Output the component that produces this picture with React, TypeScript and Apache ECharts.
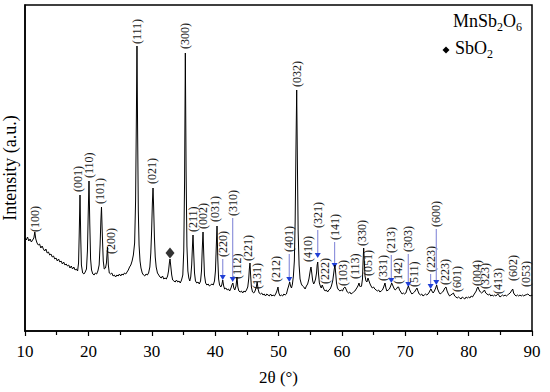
import React, { useEffect, useRef } from 'react';
import * as echarts from 'echarts';

// XRD pattern: [2θ (°), intensity (a.u.)]
const pattern: [number, number][] = [
  [10.0, 93], [10.2, 91], [10.4, 94], [10.6, 90], [10.8, 92], [11.0, 89], [11.2, 91], [11.4, 93], [11.55, 99], [11.7, 92],
  [11.9, 88], [12.1, 86], [12.3, 87], [12.5, 83], [12.7, 85], [12.9, 82], [13.1, 80], [13.3, 82], [13.5, 78], [13.7, 79],
  [13.9, 76], [14.1, 77], [14.3, 74], [14.5, 75], [14.7, 72], [14.9, 73], [15.1, 70], [15.3, 72], [15.5, 69], [15.7, 70],
  [15.9, 67], [16.1, 69], [16.3, 66], [16.5, 67], [16.7, 65], [16.9, 66], [17.1, 63], [17.3, 65], [17.5, 62], [17.7, 64],
  [17.9, 61], [18.1, 62], [18.3, 60], [18.45, 68], [18.55, 95], [18.68, 136], [18.8, 92], [18.9, 66], [19.1, 58], [19.3, 57],
  [19.5, 59], [19.7, 62], [19.85, 80], [19.98, 118], [20.1, 150], [20.22, 108], [20.35, 72], [20.5, 61], [20.7, 57], [20.9, 56],
  [21.1, 58], [21.3, 57], [21.5, 60], [21.7, 66], [21.85, 86], [21.97, 110], [22.07, 124], [22.2, 96], [22.35, 70], [22.5, 62],
  [22.7, 63], [22.85, 68], [23.02, 84], [23.15, 66], [23.3, 58], [23.5, 57], [23.7, 58], [23.9, 55], [24.1, 56], [24.3, 54],
  [24.5, 56], [24.7, 55], [24.9, 57], [25.1, 55], [25.3, 57], [25.5, 56], [25.7, 58], [25.9, 57], [26.1, 59], [26.3, 61],
  [26.5, 64], [26.7, 66], [26.9, 70], [27.1, 76], [27.3, 88], [27.45, 130], [27.57, 210], [27.67, 285], [27.77, 200], [27.88, 120],
  [28.0, 86], [28.15, 70], [28.3, 63], [28.5, 58], [28.7, 56], [28.9, 55], [29.1, 57], [29.3, 56], [29.5, 58], [29.7, 64],
  [29.85, 78], [29.98, 100], [30.1, 128], [30.2, 143], [30.3, 124], [30.42, 94], [30.55, 74], [30.7, 64], [30.9, 58], [31.1, 56],
  [31.3, 54], [31.5, 53], [31.7, 55], [31.9, 52], [32.1, 53], [32.3, 52], [32.5, 55], [32.65, 60], [32.78, 68], [32.88, 72],
  [33.0, 65], [33.15, 56], [33.3, 51], [33.5, 50], [33.7, 49], [33.9, 51], [34.1, 49], [34.3, 50], [34.5, 48], [34.7, 51],
  [34.9, 56], [35.05, 80], [35.18, 150], [35.3, 278], [35.42, 160], [35.55, 85], [35.7, 60], [35.85, 53], [36.0, 50], [36.15, 54],
  [36.3, 66], [36.42, 84], [36.51, 96], [36.62, 78], [36.75, 58], [36.9, 50], [37.1, 48], [37.3, 49], [37.5, 47], [37.7, 50],
  [37.85, 60], [37.97, 82], [38.09, 99], [38.2, 78], [38.32, 56], [38.5, 48], [38.7, 46], [38.9, 47], [39.1, 45], [39.3, 46],
  [39.5, 47], [39.7, 46], [39.9, 50], [40.05, 60], [40.18, 84], [40.3, 105], [40.42, 72], [40.55, 52], [40.7, 46], [40.9, 44],
  [41.05, 46], [41.2, 51], [41.35, 45], [41.5, 42], [41.7, 43], [41.9, 41], [42.1, 42], [42.3, 40], [42.5, 43], [42.65, 46],
  [42.8, 48], [42.95, 43], [43.1, 41], [43.3, 45], [43.45, 54], [43.58, 44], [43.75, 40], [43.95, 39], [44.15, 40], [44.35, 38],
  [44.55, 40], [44.75, 39], [44.95, 41], [45.15, 44], [45.3, 52], [45.4, 62], [45.5, 68], [45.6, 56], [45.72, 44], [45.9, 39],
  [46.1, 38], [46.3, 40], [46.5, 44], [46.63, 49], [46.78, 42], [46.95, 38], [47.15, 37], [47.35, 38], [47.55, 36], [47.75, 37],
  [47.95, 35], [48.15, 37], [48.35, 36], [48.55, 35], [48.75, 37], [48.95, 35], [49.15, 36], [49.35, 35], [49.55, 37], [49.75, 40],
  [49.92, 44], [50.05, 38], [50.25, 35], [50.45, 36], [50.65, 35], [50.85, 37], [51.05, 36], [51.25, 37], [51.45, 42], [51.6, 45],
  [51.77, 49], [51.9, 45], [52.05, 43], [52.2, 47], [52.35, 55], [52.5, 70], [52.63, 110], [52.75, 180], [52.87, 241], [52.98, 170],
  [53.1, 100], [53.25, 66], [53.4, 52], [53.6, 47], [53.8, 45], [54.0, 44], [54.2, 42], [54.4, 45], [54.6, 47], [54.8, 52],
  [54.95, 58], [55.05, 62], [55.13, 64], [55.25, 58], [55.4, 50], [55.55, 47], [55.7, 49], [55.85, 52], [56.0, 58], [56.1, 66],
  [56.19, 69], [56.3, 58], [56.45, 48], [56.6, 45], [56.75, 43], [56.9, 46], [57.02, 44], [57.15, 42], [57.35, 40], [57.55, 41],
  [57.75, 39], [57.95, 41], [58.15, 42], [58.35, 45], [58.55, 50], [58.7, 57], [58.8, 62], [58.91, 66], [59.02, 58], [59.15, 48],
  [59.3, 43], [59.5, 41], [59.7, 40], [59.9, 41], [60.1, 40], [60.3, 43], [60.49, 44], [60.65, 42], [60.85, 39], [61.05, 38],
  [61.25, 39], [61.45, 37], [61.65, 38], [61.85, 39], [62.05, 40], [62.25, 42], [62.45, 44], [62.6, 46], [62.7, 48], [62.82, 45],
  [62.95, 44], [63.1, 45], [63.25, 52], [63.35, 70], [63.44, 83], [63.54, 70], [63.65, 55], [63.8, 50], [63.95, 49], [64.12, 53],
  [64.28, 50], [64.45, 47], [64.6, 45], [64.8, 43], [65.0, 44], [65.2, 42], [65.4, 41], [65.6, 40], [65.8, 41], [66.0, 39],
  [66.2, 40], [66.4, 41], [66.6, 44], [66.8, 48], [66.95, 43], [67.1, 40], [67.3, 41], [67.5, 42], [67.7, 45], [67.86, 48],
  [68.0, 46], [68.2, 43], [68.4, 41], [68.6, 42], [68.8, 44], [68.95, 44], [69.1, 41], [69.3, 39], [69.5, 37], [69.7, 38],
  [69.9, 37], [70.1, 38], [70.3, 42], [70.5, 45], [70.65, 42], [70.85, 39], [71.05, 37], [71.25, 38], [71.45, 39], [71.65, 41],
  [71.85, 43], [72.0, 40], [72.2, 37], [72.4, 36], [72.6, 37], [72.8, 35], [73.0, 36], [73.2, 37], [73.4, 36], [73.6, 37],
  [73.8, 39], [73.95, 41], [74.06, 42], [74.2, 40], [74.4, 38], [74.6, 40], [74.8, 43], [74.96, 46], [75.1, 42], [75.3, 39],
  [75.5, 37], [75.7, 38], [75.9, 39], [76.1, 41], [76.25, 43], [76.43, 44], [76.6, 40], [76.8, 37], [77.0, 35], [77.2, 36],
  [77.4, 37], [77.6, 38], [77.8, 35], [78.0, 34], [78.2, 33], [78.4, 34], [78.6, 33], [78.8, 32], [79.0, 34], [79.2, 33],
  [79.4, 32], [79.6, 34], [79.8, 33], [80.0, 34], [80.2, 33], [80.4, 35], [80.6, 34], [80.8, 36], [81.0, 38], [81.2, 40],
  [81.35, 43], [81.48, 44], [81.65, 41], [81.85, 39], [82.05, 38], [82.25, 39], [82.5, 41], [82.7, 38], [82.9, 37], [83.1, 36],
  [83.3, 37], [83.5, 35], [83.7, 36], [83.9, 35], [84.1, 36], [84.3, 35], [84.45, 36], [84.6, 37], [84.75, 36], [84.95, 34],
  [85.15, 35], [85.35, 36], [85.55, 35], [85.75, 36], [85.95, 35], [86.15, 36], [86.35, 37], [86.55, 38], [86.75, 40], [86.96, 42],
  [87.1, 38], [87.3, 36], [87.5, 35], [87.7, 36], [87.9, 35], [88.1, 36], [88.3, 35], [88.5, 36], [88.7, 35], [88.9, 36],
  [89.1, 36], [89.25, 37], [89.37, 37], [89.5, 36], [89.7, 35], [89.9, 36], [90.0, 35],
];

// Miller-index labels placed directly above peaks
const hklNames = ['(100)', '(001)', '(110)', '(101)', '(200)', '(111)', '(021)', '(300)', '(211)', '(002)', '(031)', '(112)', '(221)', '(131)', '(212)', '(032)', '(410)', '(222)', '(103)', '(113)', '(330)', '(051)', '(331)', '(142)', '(511)', '(223)', '(601)', '(004)', '(323)', '(413)', '(602)', '(053)'];
const hklTheta = [11.58, 18.35, 20.1, 21.85, 23.57, 27.67, 30.04, 35.25, 36.51, 38.09, 39.98, 43.45, 45.19, 46.63, 49.6, 52.87, 54.66, 57.34, 60.18, 62.07, 63.13, 64.12, 66.49, 68.81, 71.45, 76.2, 78.12, 81.27, 82.53, 84.58, 86.96, 89.0];
const hklBase = [99, 139, 153, 127, 77, 287, 147, 282, 99, 102, 109, 52, 70, 42, 49, 244, 69, 47, 45, 52, 85, 55, 50, 47, 44, 46, 39, 45, 42, 37, 50, 44];

// Miller-index labels with arrows pointing down to weak peaks
const arrowNames = ['(220)', '(310)', '(401)', '(321)', '(141)', '(213)', '(303)', '(223)', '(600)'];
const arrowTheta = [41.2, 42.77, 51.7, 56.19, 58.85, 67.8, 70.48, 74.0, 74.9];
const arrowBase = [74, 115, 79, 103, 91, 78, 79, 59, 104];
const arrowTip = [51, 49, 49, 73, 63, 48, 44, 42, 46];

// SbO2 impurity marker
const impurityTheta = [32.88];
const impurityMark = [78];

const FONT = 'Liberation Serif';

export default function App() {
  const ref = useRef<HTMLDivElement>(null);
  useEffect(() => {
    if (!ref.current) return;
    const chart = echarts.init(ref.current, undefined, { renderer: 'svg' });
    const richStyle = {
      n: { fontSize: 18, fontFamily: FONT, lineHeight: 20, verticalAlign: 'top', fill: '#000' },
      s: { fontSize: 12, fontFamily: FONT, lineHeight: 21, verticalAlign: 'bottom', fill: '#000' },
    };
    chart.setOption({
      animation: false,
      backgroundColor: '#fff',
      textStyle: { fontFamily: FONT },
      grid: {
        left: 25, right: 18, top: 5, bottom: 61, show: true, borderColor: '#000', borderWidth: 1.5,
        backgroundColor: 'transparent', containLabel: false, outerBoundsMode: 'none',
      },
      xAxis: {
        type: 'value', min: 10, max: 90, interval: 10,
        splitLine: { show: false },
        axisLine: { lineStyle: { color: '#000', width: 1.5 } },
        axisTick: { inside: false, length: 5, lineStyle: { color: '#000', width: 1.2 } },
        minorTick: { show: true, splitNumber: 2, length: 4, lineStyle: { color: '#000', width: 1.2 } },
        axisLabel: { color: '#000', fontSize: 17, fontFamily: FONT, margin: 12 },
        name: '2θ (°)', nameLocation: 'middle', nameGap: 38,
        nameTextStyle: { color: '#000', fontSize: 17, fontFamily: FONT },
      },
      yAxis: {
        type: 'value', min: 0, max: 326,
        splitLine: { show: false },
        axisLine: { show: true, lineStyle: { color: '#000', width: 1.5 } },
        axisTick: { show: false }, axisLabel: { show: false },
        name: 'Intensity (a.u.)', nameLocation: 'middle', nameGap: 6, nameRotate: 90,
        nameTextStyle: { color: '#000', fontSize: 18, fontFamily: FONT },
      },
      series: [
        {
          type: 'line', data: pattern, showSymbol: false, symbol: 'none',
          lineStyle: { color: '#000', width: 1 }, silent: true,
        },
        {
          type: 'scatter', data: impurityTheta.map((t, i) => [t, impurityMark[i]]),
          symbol: 'diamond', symbolSize: [9, 11], itemStyle: { color: '#000' }, silent: true,
        },
        {
          type: 'custom', coordinateSystem: 'cartesian2d', silent: true,
          data: hklTheta.map((t, i) => [t, hklBase[i]]),
          renderItem: (params: any, api: any) => {
            const p = api.coord([api.value(0), api.value(1)]);
            return {
              type: 'text', x: p[0], y: p[1], rotation: Math.PI / 2,
              style: { text: hklNames[params.dataIndex], fill: '#1a1a1a', fontSize: 12, fontFamily: FONT, align: 'left', verticalAlign: 'middle' },
            };
          },
        },
        {
          type: 'custom', coordinateSystem: 'cartesian2d', silent: true,
          data: arrowTheta.map((t, i) => [t, arrowBase[i], arrowTip[i]]),
          renderItem: (params: any, api: any) => {
            const top = api.coord([api.value(0), api.value(1)]);
            const tip = api.coord([api.value(0), api.value(2)]);
            const x = top[0];
            return {
              type: 'group',
              children: [
                { type: 'line', shape: { x1: x, y1: top[1] + 2, x2: x, y2: tip[1] - 4 }, style: { stroke: '#8f93dc', lineWidth: 1.2 } },
                { type: 'polygon', shape: { points: [[x - 3, tip[1] - 5], [x + 3, tip[1] - 5], [x, tip[1]]] }, style: { fill: '#1f3fd6' } },
                {
                  type: 'text', x, y: top[1], rotation: Math.PI / 2,
                  style: { text: arrowNames[params.dataIndex], fill: '#1a1a1a', fontSize: 12, fontFamily: FONT, align: 'left', verticalAlign: 'middle' },
                },
              ],
            };
          },
        },
      ],
      graphic: [
        {
          type: 'text', left: 453, top: 12, silent: true,
          style: { text: '{n|MnSb}{s|2}{n|O}{s|6}', fill: '#000', rich: richStyle },
        },
        {
          type: 'text', left: 455, top: 39, silent: true,
          style: { text: '{n|SbO}{s|2}', fill: '#000', rich: richStyle },
        },
        {
          type: 'polygon', silent: true,
          shape: { points: [[446, 46.5], [449.5, 50], [446, 53.5], [442.5, 50]] },
          style: { fill: '#000' },
        },
      ],
    });
    return () => chart.dispose();
  }, []);
  return <div ref={ref} style={{ position: 'fixed', left: 0, top: 0, width: 550, height: 392 }} />;
}
